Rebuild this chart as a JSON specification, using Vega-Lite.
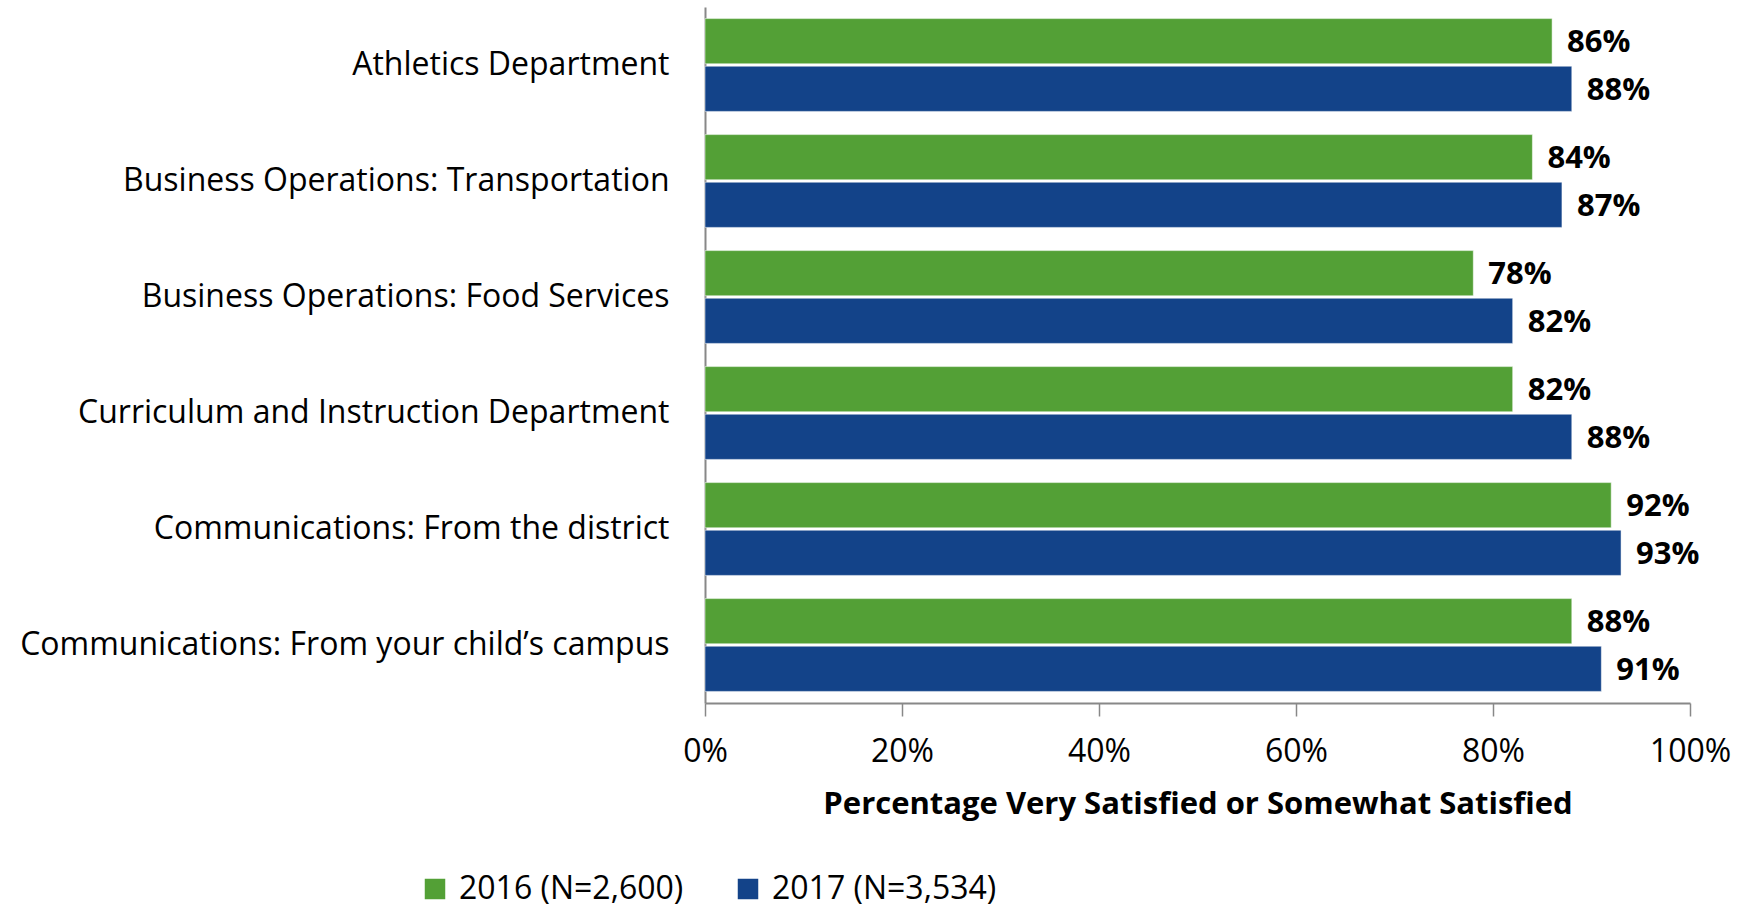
{
  "$schema": "https://vega.github.io/schema/vega-lite/v6.json",
  "autosize": "none",
  "width": 985,
  "height": 696,
  "padding": {"left": 705, "top": 7, "right": 59, "bottom": 205},
  "background": "white",
  "config": {
    "view": {"stroke": null},
    "font": "Open Sans"
  },
  "data": {
    "values": [
      {"category": "Athletics Department", "year": "2016 (N=2,600)", "value": 0.86},
      {"category": "Athletics Department", "year": "2017 (N=3,534)", "value": 0.88},
      {"category": "Business Operations: Transportation", "year": "2016 (N=2,600)", "value": 0.84},
      {"category": "Business Operations: Transportation", "year": "2017 (N=3,534)", "value": 0.87},
      {"category": "Business Operations: Food Services", "year": "2016 (N=2,600)", "value": 0.78},
      {"category": "Business Operations: Food Services", "year": "2017 (N=3,534)", "value": 0.82},
      {"category": "Curriculum and Instruction Department", "year": "2016 (N=2,600)", "value": 0.82},
      {"category": "Curriculum and Instruction Department", "year": "2017 (N=3,534)", "value": 0.88},
      {"category": "Communications: From the district", "year": "2016 (N=2,600)", "value": 0.92},
      {"category": "Communications: From the district", "year": "2017 (N=3,534)", "value": 0.93},
      {"category": "Communications: From your child’s campus", "year": "2016 (N=2,600)", "value": 0.88},
      {"category": "Communications: From your child’s campus", "year": "2017 (N=3,534)", "value": 0.91}
    ]
  },
  "encoding": {
    "y": {
      "field": "category",
      "type": "nominal",
      "sort": null,
      "scale": {"paddingInner": 0.2, "paddingOuter": 0.1},
      "axis": {
        "title": null,
        "ticks": false,
        "labelPadding": 36,
        "labelFontSize": 32,
        "labelColor": "#000000",
        "labelLimit": 800,
        "domainColor": "#888888",
        "domainWidth": 2
      }
    },
    "yOffset": {"field": "year", "type": "nominal", "scale": {"paddingInner": 0.05}},
    "x": {
      "field": "value",
      "type": "quantitative",
      "scale": {"domain": [0, 1], "nice": false},
      "axis": {
        "format": ".0%",
        "values": [0, 0.2, 0.4, 0.6, 0.8, 1],
        "grid": false,
        "labelFlush": false,
        "title": "Percentage Very Satisfied or Somewhat Satisfied",
        "titleFontSize": 31,
        "titleFontWeight": "bold",
        "titleColor": "#000000",
        "titlePadding": 22,
        "labelFontSize": 32,
        "labelColor": "#000000",
        "labelPadding": 20,
        "tickSize": 13,
        "tickColor": "#888888",
        "domainColor": "#888888",
        "domainWidth": 2,
        "tickWidth": 1.5
      }
    }
  },
  "layer": [
    {
      "mark": {"type": "bar", "stroke": "#ffffff", "strokeOpacity": 0.5, "strokeWidth": 1},
      "encoding": {
        "color": {
          "field": "year",
          "type": "nominal",
          "scale": {"range": ["#53A036", "#134389"]},
          "legend": {
            "title": null,
            "orient": "none",
            "direction": "horizontal",
            "legendX": -286,
            "legendY": 866,
            "symbolType": "square",
            "symbolSize": 420,
            "symbolStrokeWidth": 0,
            "labelFontSize": 32,
            "labelColor": "#000000",
            "labelLimit": 500,
            "columnPadding": 48,
            "labelOffset": 8
          }
        }
      }
    },
    {
      "mark": {"type": "text", "align": "left", "baseline": "middle", "dx": 15, "dy": 2, "fontSize": 31, "fontWeight": "bold", "color": "#000000"},
      "encoding": {
        "text": {"field": "value", "type": "quantitative", "format": ".0%"}
      }
    }
  ]
}
